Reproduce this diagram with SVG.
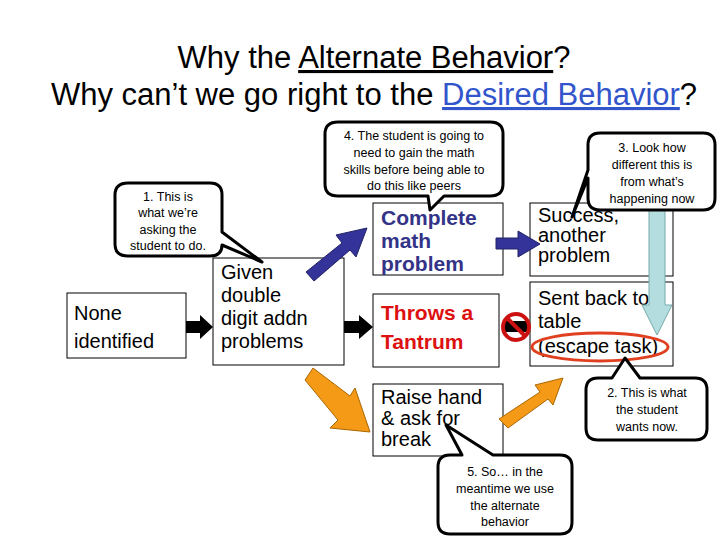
<svg xmlns="http://www.w3.org/2000/svg" width="720" height="540" viewBox="0 0 720 540">
<style>
text{font-family:"Liberation Sans",Arial,sans-serif}
.t{font-size:31px;fill:#000;text-anchor:middle}
.box{fill:#fff;stroke:#000;stroke-width:1}
.bt{font-size:20px;fill:#000}
.bb{font-size:21px;font-weight:bold}
.co{fill:#fff;stroke:#000;stroke-width:3;stroke-linejoin:round}
.ct{font-size:12.5px;fill:#000;text-anchor:middle}
</style>
<rect width="720" height="540" fill="#fff"/>
<text class="t" x="374" y="68">Why the <tspan text-decoration="underline">Alternate Behavior</tspan>?</text>
<text class="t" x="374" y="105">Why can’t we go right to the <tspan fill="#3355cc" text-decoration="underline">Desired Behavior</tspan>?</text>

<g id="none"><rect class="box" x="67" y="293" width="119" height="65"/>
<text class="bt" x="74" y="320">None</text><text class="bt" x="74" y="348">identified</text></g>
<g id="given"><rect class="box" x="213" y="258" width="131" height="107"/>
<text class="bt" x="221" y="279">Given</text><text class="bt" x="221" y="302">double</text><text class="bt" x="221" y="325">digit addn</text><text class="bt" x="221" y="348">problems</text></g>
<g id="complete"><rect class="box" x="373" y="203" width="130" height="72"/>
<text class="bb" fill="#333388" x="381" y="225">Complete</text><text class="bb" fill="#333388" x="381" y="248">math</text><text class="bb" fill="#333388" x="381" y="271">problem</text></g>
<g id="throws"><rect class="box" x="373" y="294" width="126" height="73"/>
<text class="bb" fill="#dd1111" x="381" y="320">Throws a</text><text class="bb" fill="#dd1111" x="381" y="349">Tantrum</text></g>
<g id="raise"><rect class="box" x="373" y="384" width="130" height="72"/>
<text class="bt" x="381" y="404">Raise hand</text><text class="bt" x="381" y="425">&amp; ask for</text><text class="bt" x="381" y="446">break</text></g>
<g id="success"><rect class="box" x="530" y="203" width="143" height="73"/>
<text class="bt" x="538" y="222" font-size="18">Success,</text><text class="bt" x="538" y="242" font-size="18">another</text><text class="bt" x="538" y="262" font-size="18">problem</text></g>
<g id="sent"><rect class="box" x="530" y="282" width="143" height="84"/>
<text class="bt" x="538" y="305" font-size="18">Sent back to</text><text class="bt" x="538" y="328" font-size="18">table</text><text class="bt" x="538" y="353" font-size="18">(escape task)</text>
<ellipse cx="600" cy="347" rx="68" ry="14" fill="none" stroke="#e04020" stroke-width="3"/></g>

<g id="connectors">
<polygon points="186,321 200,321 200,315 213,327 200,339 200,333 186,333" fill="#000"/>
<polygon points="344,321 359,321 359,315 373,327 359,339 359,333 344,333" fill="#000"/>
<polygon points="306,272 342,243 336,235 367,228 356,257 350,250 314,281" fill="#333399" stroke="#222266" stroke-width="1"/>
<polygon points="496,238 518,238 518,231 540,244 518,257 518,249 496,249" fill="#333399" stroke="#222266" stroke-width="1"/>
<polygon points="313,368 350,396 355,388 370,432 330,428 338,420 305,380" fill="#f59a17" stroke="#aa6600" stroke-width="1"/>
<polygon points="499,419 540,392 535,385 563,378 553,405 548,399 508,428" fill="#f59a17" stroke="#aa6600" stroke-width="1"/>
<polygon points="649,205 665,205 665,305 672,305 657,335 642,305 649,305" fill="#b4dde0" stroke="#7aa" stroke-width="1"/>
</g>
<g id="nosign"><rect x="505" y="321" width="22" height="11" fill="#000"/>
<circle cx="516" cy="327" r="13" fill="none" stroke="#cc1111" stroke-width="4"/>
<line x1="507" y1="318" x2="525" y2="336" stroke="#cc1111" stroke-width="4"/></g>

<g id="c1"><path class="co" d="M128,183 H210 Q222,183 222,195 V232 L262,262 L222,245 Q222,256 210,256 H128 Q115,256 115,244 V195 Q115,183 128,183Z"/>
<text class="ct" x="168" y="201">1. This is</text><text class="ct" x="168" y="217">what we’re</text><text class="ct" x="168" y="234">asking the</text><text class="ct" x="168" y="250">student to do.</text></g>
<g id="c4"><path class="co" d="M338,122 H490 Q503,122 503,134 V184 Q503,196 490,196 H444 L430,210 L428,196 H338 Q325,196 325,184 V134 Q325,122 338,122Z"/>
<text class="ct" x="414" y="140">4. The student is going to</text><text class="ct" x="414" y="157">need to gain the math</text><text class="ct" x="414" y="174">skills before being able to</text><text class="ct" x="414" y="190">do this like peers</text></g>
<g id="c3"><path class="co" d="M600,133 H703 Q715,133 715,145 V198 Q715,210 703,210 H600 Q588,210 588,198 V178 L572,217 L588,170 V145 Q588,133 600,133Z"/>
<text class="ct" x="652" y="152">3. Look how</text><text class="ct" x="652" y="169">different this is</text><text class="ct" x="652" y="186">from what’s</text><text class="ct" x="652" y="203">happening now</text></g>
<g id="c2"><path class="co" d="M598,378 H612 L625,358 L640,378 H695 Q707,378 707,390 V428 Q707,440 695,440 H598 Q586,440 586,428 V390 Q586,378 598,378Z"/>
<text class="ct" x="647" y="397">2. This is what</text><text class="ct" x="647" y="414">the student</text><text class="ct" x="647" y="431">wants now.</text></g>
<g id="c5"><path class="co" d="M450,455 H462 L446,425 L493,455 H560 Q572,455 572,467 V522 Q572,534 560,534 H450 Q438,534 438,522 V467 Q438,455 450,455Z"/>
<text class="ct" x="505" y="476">5. So… in the</text><text class="ct" x="505" y="493">meantime we use</text><text class="ct" x="505" y="510">the alternate</text><text class="ct" x="505" y="526">behavior</text></g>
</svg>
